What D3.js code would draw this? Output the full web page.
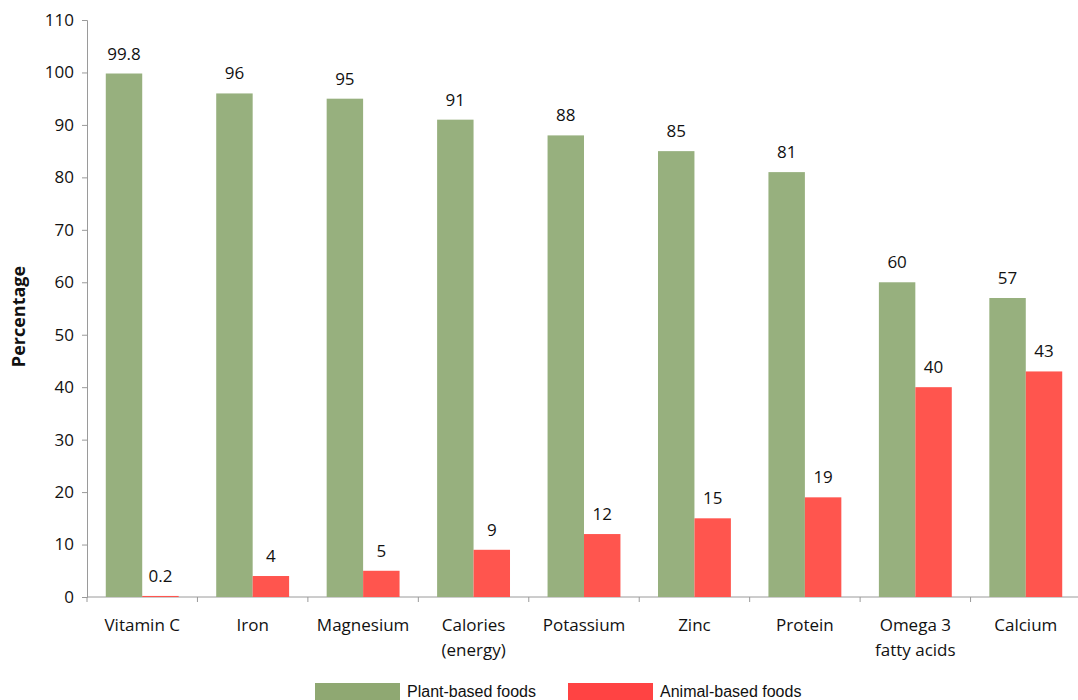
<!DOCTYPE html>
<html>
<head>
<meta charset="utf-8">
<script src="https://cdn.jsdelivr.net/npm/d3@7"></script>
<style>
  body { margin: 0; background: #fff; }
  svg { display: block; }
</style>
</head>
<body>
<div id="chart"></div>
<script>
// nutrients and the share from each food source
var nutrients = ["Vitamin C", "Iron", "Magnesium", "Calories\n(energy)", "Potassium", "Zinc", "Protein", "Omega 3\nfatty acids", "Calcium"];
var plantValues = [99.8, 96, 95, 91, 88, 85, 81, 60, 57];
var animalValues = [0.2, 4, 5, 9, 12, 15, 19, 40, 43];
var seriesNames = ["Plant-based foods", "Animal-based foods"];
var yTicks = [0, 10, 20, 30, 40, 50, 60, 70, 80, 90, 100, 110];

var width = 1078, height = 700;
var plotL = 87, plotR = 1081, plotT = 20, plotB = 597;
var colors = ["#97B07E", "#FF554E"];
var legendColors = ["#8FA872", "#FF4343"];
var font = "'Open Sans', sans-serif";

var svg = d3.select("#chart").append("svg")
  .attr("width", width)
  .attr("height", height);

var x = d3.scaleBand().domain(nutrients).range([plotL, plotR]);
var y = d3.scaleLinear().domain([0, 110]).range([plotB, plotT]);
// bars cover about 66% of each category, centred
var groupW = x.bandwidth() * 0.66;
var inner = d3.scaleBand().domain([0, 1])
  .range([(x.bandwidth() - groupW) / 2, (x.bandwidth() + groupW) / 2]);

var data = nutrients.map(function (n, i) { return { name: n, vals: [plantValues[i], animalValues[i]] }; });

// y axis
var yAxis = svg.append("g")
  .attr("transform", "translate(" + plotL + ",0)")
  .call(d3.axisLeft(y).tickValues(yTicks).tickSize(5).tickPadding(8));
yAxis.selectAll("line, path").attr("stroke", "#9a9a9a");
yAxis.selectAll("text")
  .style("font-family", font)
  .style("font-size", "17px")
  .attr("fill", "#111");

// x axis with ticks at category boundaries
var xAxisG = svg.append("g").attr("transform", "translate(0," + plotB + ")");
xAxisG.append("line")
  .attr("x1", plotL).attr("x2", plotR)
  .attr("stroke", "#9a9a9a");
xAxisG.selectAll("line.tick")
  .data(d3.range(nutrients.length + 1))
  .enter().append("line")
  .attr("class", "tick")
  .attr("x1", function (d) { return plotL + d * x.step(); })
  .attr("x2", function (d) { return plotL + d * x.step(); })
  .attr("y1", 0).attr("y2", 5)
  .attr("stroke", "#9a9a9a");

var labels = xAxisG.selectAll("text.cat")
  .data(nutrients)
  .enter().append("text")
  .attr("class", "cat")
  .attr("y", 34)
  .attr("text-anchor", "middle")
  .style("font-family", font)
  .style("font-size", "17px")
  .attr("fill", "#111");
labels.each(function (d) {
  var t = d3.select(this);
  d.split("\n").forEach(function (line, i) {
    t.append("tspan")
      .attr("x", x(d) + x.bandwidth() / 2)
      .attr("dy", i === 0 ? 0 : 25)
      .text(line);
  });
});

// bars
var groups = svg.selectAll("g.grp")
  .data(data)
  .enter().append("g")
  .attr("class", "grp")
  .attr("transform", function (d) { return "translate(" + x(d.name) + ",0)"; });

groups.selectAll("rect")
  .data(function (d) { return d.vals; })
  .enter().append("rect")
  .attr("x", function (d, i) { return inner(i); })
  .attr("width", inner.bandwidth())
  .attr("y", function (d) { return y(d); })
  .attr("height", function (d) { return plotB - y(d); })
  .attr("fill", function (d, i) { return colors[i]; });

groups.selectAll("text")
  .data(function (d) { return d.vals; })
  .enter().append("text")
  .attr("x", function (d, i) { return inner(i) + inner.bandwidth() / 2; })
  .attr("y", function (d) { return y(d) - 14; })
  .attr("text-anchor", "middle")
  .style("font-family", font)
  .style("font-size", "17px")
  .attr("fill", "#111")
  .text(function (d) { return d; });

// y title
svg.append("text")
  .attr("transform", "translate(25," + ((plotT + plotB) / 2 + 8) + ") rotate(-90)")
  .attr("text-anchor", "middle")
  .style("font-family", font)
  .style("font-size", "18px")
  .style("font-weight", "bold")
  .attr("fill", "#111")
  .text("Percentage");

// legend
var legendX = [315, 568];
var legend = svg.selectAll("g.legend")
  .data(seriesNames)
  .enter().append("g")
  .attr("class", "legend")
  .attr("transform", function (d, i) { return "translate(" + legendX[i] + ",683)"; });
legend.append("rect")
  .attr("width", 85).attr("height", 20)
  .attr("fill", function (d, i) { return legendColors[i]; });
legend.append("text")
  .attr("x", 92).attr("y", 14)
  .style("font-family", "'Liberation Sans', Arial, sans-serif")
  .style("font-size", "16px")
  .attr("fill", "#111")
  .text(function (d) { return d; });
</script>
</body>
</html>
